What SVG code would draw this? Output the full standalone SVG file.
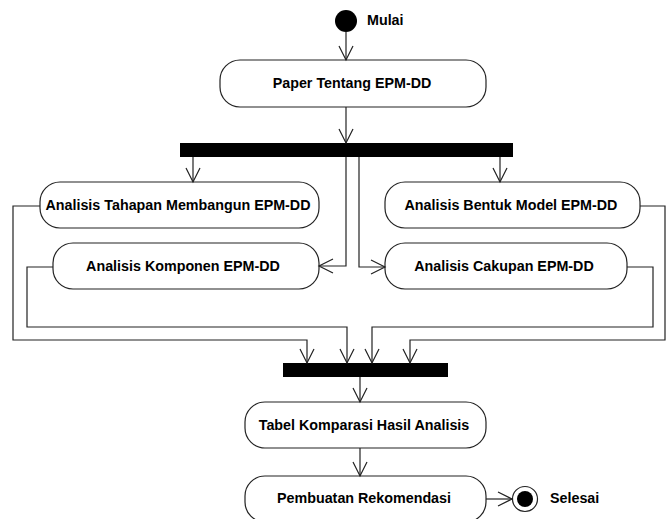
<svg xmlns="http://www.w3.org/2000/svg" width="671" height="519" viewBox="0 0 671 519">
<defs>
<marker id="arr" markerUnits="userSpaceOnUse" markerWidth="20" markerHeight="20" viewBox="-16 -10 20 20" refX="0" refY="0" orient="auto">
<path d="M-14,-7 L0,0 L-14,7" fill="none" stroke="#222" stroke-width="1.2"/>
</marker>
</defs>
<style>
.box{fill:#fff;stroke:#222;stroke-width:1.2}
.t{font-family:"Liberation Sans",Arial,sans-serif;font-weight:bold;font-size:14.3px;fill:#000;text-anchor:middle}
.lbl{font-family:"Liberation Sans",Arial,sans-serif;font-weight:bold;font-size:14.3px;fill:#000}
.c{fill:none;stroke:#222;stroke-width:1.2;marker-end:url(#arr)}
.bar{fill:#000}
</style>
<g id="start"><circle cx="346" cy="21" r="11" fill="#000"/><text class="lbl" x="367" y="25">Mulai</text></g>
<g id="paper"><rect class="box" x="220" y="60" width="266" height="47" rx="20"/><text class="t" x="352" y="88">Paper Tentang EPM-DD</text></g>
<g id="fork"><rect class="bar" x="180" y="143" width="333" height="14"/></g>
<g id="tahapan"><rect class="box" x="40" y="182" width="279" height="46" rx="20"/><text class="t" x="178" y="210">Analisis Tahapan Membangun EPM-DD</text></g>
<g id="komponen"><rect class="box" x="53" y="243" width="266" height="46" rx="20"/><text class="t" x="183" y="271">Analisis Komponen EPM-DD</text></g>
<g id="bentuk"><rect class="box" x="385" y="182" width="255" height="46" rx="20"/><text class="t" x="511" y="210">Analisis Bentuk Model EPM-DD</text></g>
<g id="cakupan"><rect class="box" x="385" y="243" width="242" height="46" rx="20"/><text class="t" x="504" y="271">Analisis Cakupan EPM-DD</text></g>
<g id="join"><rect class="bar" x="283" y="363" width="165" height="14"/></g>
<g id="tabel"><rect class="box" x="245" y="402" width="241" height="46" rx="20"/><text class="t" x="364" y="430">Tabel Komparasi Hasil Analisis</text></g>
<g id="pembuatan"><rect class="box" x="245" y="476" width="241" height="46" rx="20"/><text class="t" x="364" y="503">Pembuatan Rekomendasi</text></g>
<g id="end"><circle cx="525" cy="499" r="12.5" fill="#fff" stroke="#222" stroke-width="1.2"/><circle cx="525" cy="499" r="8" fill="#000"/><text class="lbl" x="550" y="503">Selesai</text></g>
<g id="connectors">
<path class="c" d="M346,32 L346,60"/>
<path class="c" d="M346,107 L346,143"/>
<path class="c" d="M193,157 L193,182"/>
<path class="c" d="M500,157 L500,182"/>
<path class="c" d="M346,157 L346,266 L319,266"/>
<path class="c" d="M359,157 L359,267 L385,267"/>
<path class="c" d="M40,206 L13,206 L13,340 L307,340 L307,363"/>
<path class="c" d="M53,267 L27,267 L27,327 L347,327 L347,363"/>
<path class="c" d="M627,267 L653,267 L653,327 L372,327 L372,363"/>
<path class="c" d="M640,206 L665,206 L665,340 L410,340 L410,363"/>
<path class="c" d="M360,377 L360,402"/>
<path class="c" d="M360,448 L360,476"/>
<path class="c" d="M486,499 L512,499"/>
</g>
</svg>
